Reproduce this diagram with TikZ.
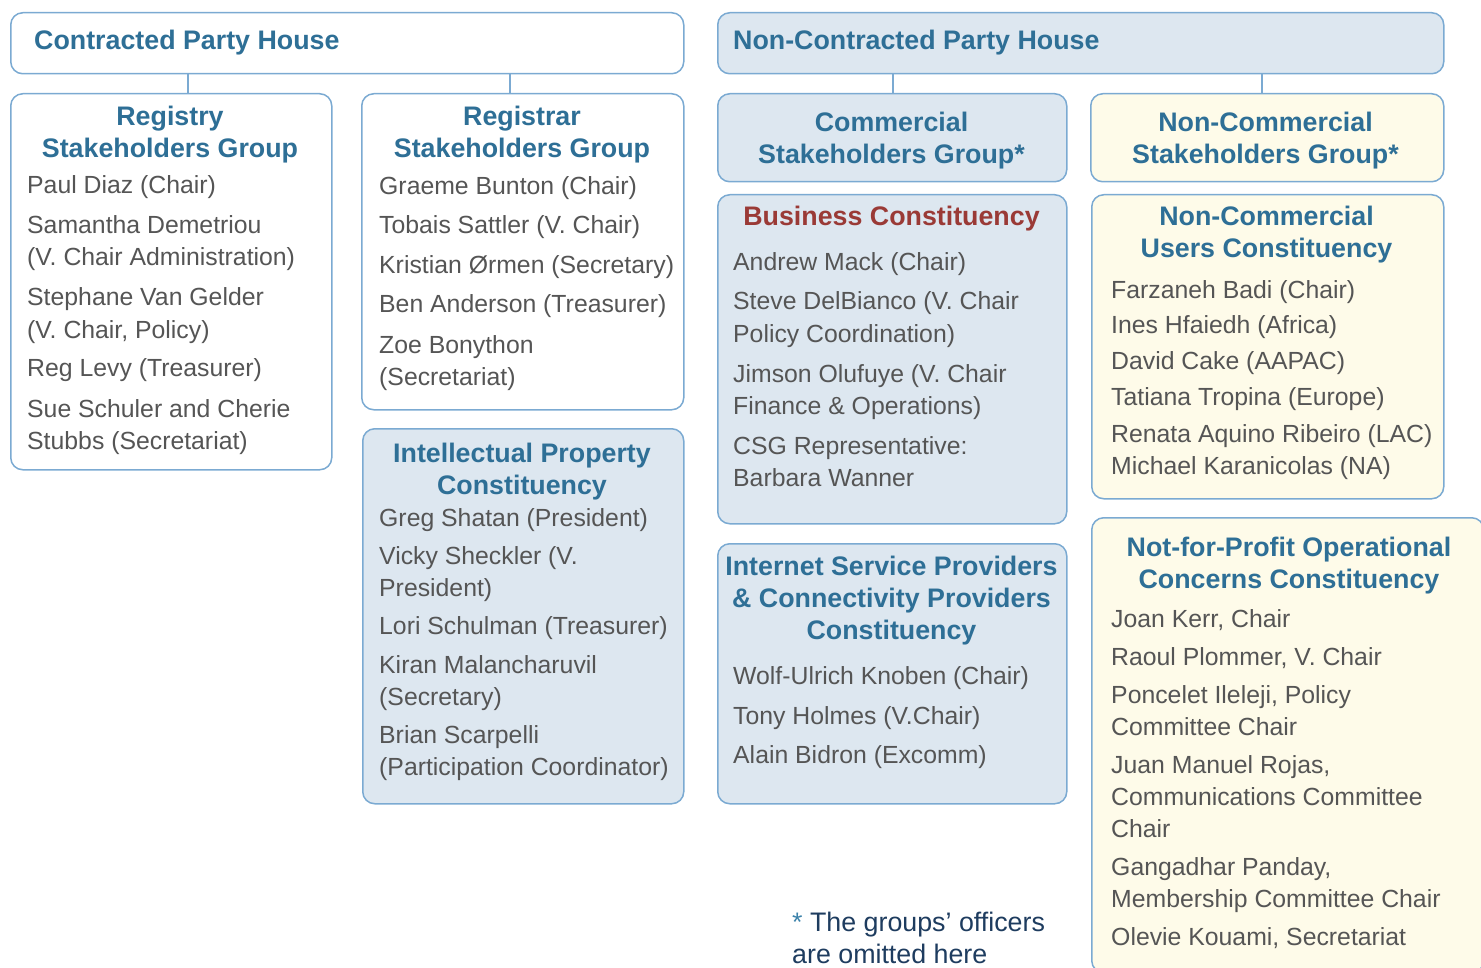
\documentclass[tikz,border=0pt]{standalone}
\usepackage{fontspec}
\setmainfont{Liberation Sans}
\definecolor{ttl}{HTML}{2E6F96}
\definecolor{bdr}{HTML}{7BAAD2}
\definecolor{fblue}{HTML}{DDE7F0}
\definecolor{fyel}{HTML}{FEFBE9}
\definecolor{txt}{HTML}{555555}
\definecolor{bcred}{HTML}{9A3A36}
\definecolor{navy}{HTML}{1E3C5F}
\definecolor{starc}{HTML}{3C82AA}
\tikzset{
  panel/.style={draw=bdr, line width=1.5pt, rounded corners=12pt, inner sep=0pt, anchor=north west},
  wpanel/.style={panel, fill=white},
  bpanel/.style={panel, fill=fblue},
  ypanel/.style={panel, fill=fyel},
  link/.style={draw=bdr, line width=1.5pt},
  ttlc/.style={font=\fontsize{26.8}{30}\selectfont\bfseries, text=ttl, inner sep=0pt, anchor=base},
  ttll/.style={ttlc, anchor=base west},
  body/.style={font=\fontsize{24.8}{28}\selectfont, text=txt, inner sep=0pt, anchor=base west},
  foot/.style={font=\fontsize{26.8}{28}\selectfont, text=navy, inner sep=0pt, anchor=base west},
}
\begin{document}
\begin{tikzpicture}[x=1pt, y=-1pt]
\useasboundingbox (0,0) rectangle (1481,968);
\clip (0,0) rectangle (1481,968);
% panels
\node[wpanel, minimum width=673pt, minimum height=61pt] (cph) at (10,12) {};
\node[bpanel, minimum width=726pt, minimum height=61pt] (ncph) at (717,12) {};
\node[wpanel, minimum width=321pt, minimum height=376pt] (rysg) at (10,93) {};
\node[wpanel, minimum width=322pt, minimum height=316pt] (rrsg) at (361,93) {};
\node[bpanel, minimum width=321pt, minimum height=375pt] (ipc) at (362,428) {};
\node[bpanel, minimum width=349pt, minimum height=88pt] (csg) at (717,93) {};
\node[ypanel, minimum width=353pt, minimum height=88pt] (ncsg) at (1090,93) {};
\node[bpanel, minimum width=349pt, minimum height=329pt] (bc) at (717,194) {};
\node[bpanel, minimum width=349pt, minimum height=260pt] (isp) at (717,543) {};
\node[ypanel, minimum width=352pt, minimum height=304pt] (ncuc) at (1091,194) {};
\node[ypanel, minimum width=392pt, minimum height=455pt] (npoc) at (1091,517) {};
% connectors
\draw[link] (cph.south -| 188,0) -- (rysg.north -| 188,0);
\draw[link] (cph.south -| 510,0) -- (rrsg.north -| 510,0);
\draw[link] (ncph.south -| 893,0) -- (csg.north -| 893,0);
\draw[link] (ncph.south -| 1262,0) -- (ncsg.north -| 1262,0);
% house titles
\node[ttll] (cpht) at (34,50) {Contracted Party House};
\node[ttll] (ncpht) at (733,50) {Non-Contracted Party House};
% group titles
\node[ttlc] (rysgt1) at (170,126) {Registry};
\node[ttlc] (rysgt2) at (170,158) {Stakeholders Group};
\node[ttlc] (rrsgt1) at (522,126) {Registrar};
\node[ttlc] (rrsgt2) at (522,158) {Stakeholders Group};
\node[ttlc] (ipct1) at (522,462) {Intellectual Property};
\node[ttlc] (ipct2) at (522,494) {Constituency};
\node[ttlc] (csgt1) at (891.5,132) {Commercial};
\node[ttlc] (csgt2) at (891.5,164) {Stakeholders Group*};
\node[ttlc] (ncsgt1) at (1265.5,132) {Non-Commercial};
\node[ttlc] (ncsgt2) at (1265.5,164) {Stakeholders Group*};
\node[ttlc, text=bcred] (bct) at (891.5,226) {Business Constituency};
\node[ttlc] (ispt1) at (891.5,575) {Internet Service Providers};
\node[ttlc] (ispt2) at (891.5,607) {\& Connectivity Providers};
\node[ttlc] (ispt3) at (891.5,639) {Constituency};
\node[ttlc] (ncuct1) at (1266.5,226) {Non-Commercial};
\node[ttlc] (ncuct2) at (1266.5,258) {Users Constituency};
\node[ttlc] (npoct1) at (1289,556) {Not-for-Profit Operational};
\node[ttlc] (npoct2) at (1289,588) {Concerns Constituency};
% body lines
\foreach \yy/\t [count=\i] in {185/{Paul Diaz (Chair)}, 225/{Samantha Demetriou}, 257/{(V. Chair Administration)}, 297/{Stephane Van Gelder}, 329/{(V. Chair, Policy)}, 368/{Reg Levy (Treasurer)}, 408/{Sue Schuler and Cherie}, 440/{Stubbs (Secretariat)}}
  \node[body] (rysgl\i) at (27,\yy+9) {\t};
\foreach \yy/\t [count=\i] in {186/{Graeme Bunton (Chair)}, 225/{Tobais Sattler (V. Chair)}, 265/{Kristian Ørmen (Secretary)}, 304/{Ben Anderson (Treasurer)}, 344/{Zoe Bonython}, 376/{(Secretariat)}}
  \node[body] (rrsgl\i) at (379,\yy+9) {\t};
\foreach \yy/\t [count=\i] in {517/{Greg Shatan (President)}, 555/{Vicky Sheckler (V.}, 587/{President)}, 625/{Lori Schulman (Treasurer)}, 664/{Kiran Malancharuvil}, 696/{(Secretary)}, 734/{Brian Scarpelli}, 766/{(Participation Coordinator)}}
  \node[body] (ipcl\i) at (379,\yy+9) {\t};
\foreach \yy/\t [count=\i] in {262/{Andrew Mack (Chair)}, 301/{Steve DelBianco (V. Chair}, 333/{Policy Coordination)}, 373/{Jimson Olufuye (V. Chair}, 405/{Finance \& Operations)}, 445/{CSG Representative:}, 477/{Barbara Wanner}}
  \node[body] (bcl\i) at (733,\yy+9) {\t};
\foreach \yy/\t [count=\i] in {675/{Wolf-Ulrich Knoben (Chair)}, 715/{Tony Holmes (V.Chair)}, 754/{Alain Bidron (Excomm)}}
  \node[body] (ispl\i) at (733,\yy+9) {\t};
\foreach \yy/\t [count=\i] in {290/{Farzaneh Badi (Chair)}, 325/{Ines Hfaiedh (Africa)}, 361/{David Cake (AAPAC)}, 397/{Tatiana Tropina (Europe)}, 433/{Renata Aquino Ribeiro (LAC)}, 465/{Michael Karanicolas (NA)}}
  \node[body] (ncucl\i) at (1111,\yy+9) {\t};
\foreach \yy/\t [count=\i] in {618/{Joan Kerr, Chair}, 656/{Raoul Plommer, V. Chair}, 694/{Poncelet Ileleji, Policy}, 726/{Committee Chair}, 764/{Juan Manuel Rojas,}, 796/{Communications Committee}, 828/{Chair}, 866/{Gangadhar Panday,}, 898/{Membership Committee Chair}, 936/{Olevie Kouami, Secretariat}}
  \node[body] (npocl\i) at (1111,\yy+9) {\t};
% footnote
\node[foot] (fn1) at (792,931) {\textcolor{starc}{*} The groups’ officers};
\node[foot] (fn2) at (792,963) {are omitted here};
\end{tikzpicture}
\end{document}
